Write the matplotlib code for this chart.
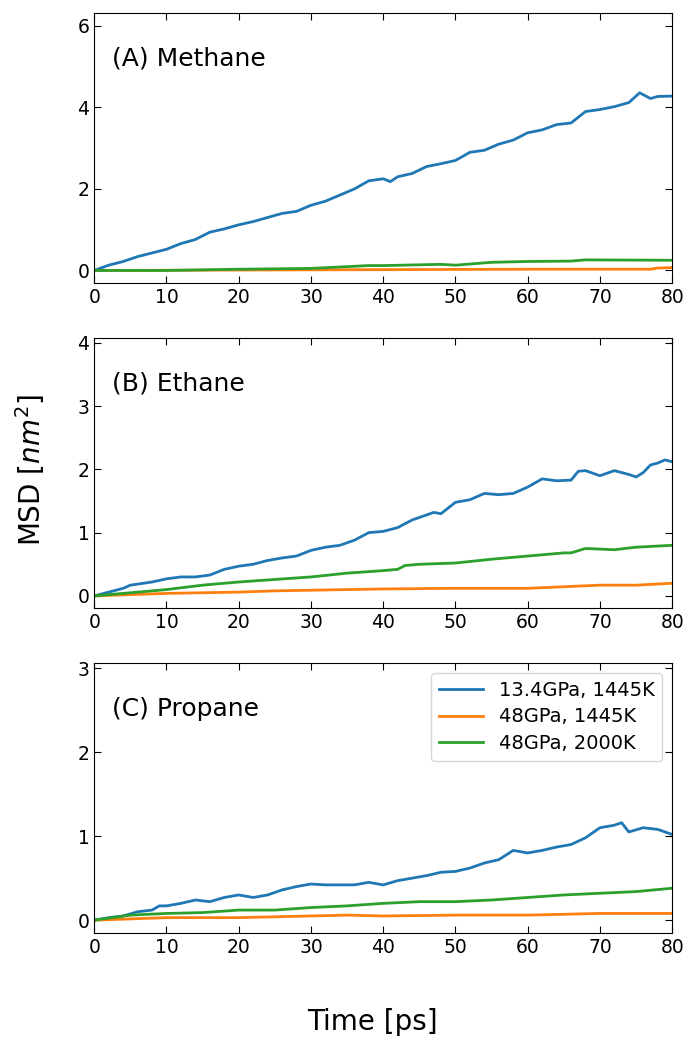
import numpy as np
import matplotlib.pyplot as plt

# MSD curves (time in ps, MSD in nm^2)
labels = ['13.4GPa, 1445K', '48GPa, 1445K', '48GPa, 2000K']
colors = ['#1f77b4', '#ff7f0e', '#2ca02c']
titles = ['(A) Methane', '(B) Ethane', '(C) Propane']

# Methane
t_a_blue = [0, 2, 4, 6, 8, 10, 12, 14, 16, 18, 20, 22, 24, 26, 28, 30, 32, 34, 36, 38,
            40, 41, 42, 44, 46, 48, 50, 52, 54, 56, 58, 60, 62, 64, 66, 68, 70, 72, 74,
            75.5, 77, 78, 80]
msd_a_blue = [0, 0.13, 0.22, 0.34, 0.43, 0.52, 0.66, 0.76, 0.94, 1.02, 1.12, 1.2, 1.3,
              1.4, 1.45, 1.6, 1.7, 1.85, 2.0, 2.2, 2.25, 2.18, 2.3, 2.38, 2.55, 2.62,
              2.7, 2.9, 2.95, 3.1, 3.2, 3.38, 3.45, 3.58, 3.62, 3.9, 3.95, 4.02, 4.12,
              4.36, 4.22, 4.27, 4.28]
t_a_orange = [0, 20, 40, 60, 77, 78, 80]
msd_a_orange = [0, 0.01, 0.02, 0.03, 0.03, 0.06, 0.07]
t_a_green = [0, 10, 20, 30, 38, 40, 48, 50, 55, 60, 66, 68, 80]
msd_a_green = [0, 0.0, 0.03, 0.05, 0.12, 0.12, 0.15, 0.13, 0.2, 0.22, 0.23, 0.26, 0.25]

# Ethane
t_b_blue = [0, 2, 4, 5, 8, 10, 12, 14, 16, 18, 20, 22, 24, 26, 28, 30, 32, 34, 36, 38,
            40, 42, 44, 46, 47, 48, 50, 52, 54, 56, 58, 60, 62, 64, 66, 67, 68, 70, 72,
            74, 75, 76, 77, 78, 79, 80]
msd_b_blue = [0, 0.06, 0.12, 0.17, 0.22, 0.27, 0.3, 0.3, 0.33, 0.42, 0.47, 0.5, 0.56,
              0.6, 0.63, 0.72, 0.77, 0.8, 0.88, 1.0, 1.02, 1.08, 1.2, 1.28, 1.32, 1.3,
              1.48, 1.52, 1.62, 1.6, 1.62, 1.72, 1.85, 1.82, 1.83, 1.97, 1.98, 1.9,
              1.98, 1.92, 1.88, 1.95, 2.07, 2.1, 2.15, 2.12]
t_b_orange = [0, 10, 20, 25, 30, 40, 50, 60, 66, 70, 75, 80]
msd_b_orange = [0, 0.04, 0.06, 0.08, 0.09, 0.11, 0.12, 0.12, 0.15, 0.17, 0.17, 0.2]
t_b_green = [0, 5, 10, 15, 20, 25, 30, 35, 40, 42, 43, 45, 50, 55, 60, 65, 66, 68, 72, 75, 80]
msd_b_green = [0, 0.05, 0.1, 0.17, 0.22, 0.26, 0.3, 0.36, 0.4, 0.42, 0.48, 0.5, 0.52,
               0.58, 0.63, 0.68, 0.68, 0.75, 0.73, 0.77, 0.8]

# Propane
t_c_blue = [0, 2, 4, 6, 8, 9, 10, 12, 14, 16, 18, 20, 22, 24, 26, 28, 30, 32, 34, 36,
            38, 40, 42, 44, 46, 48, 50, 52, 54, 56, 58, 60, 62, 64, 66, 68, 70, 72, 73,
            74, 76, 78, 80]
msd_c_blue = [0, 0.03, 0.05, 0.1, 0.12, 0.17, 0.17, 0.2, 0.24, 0.22, 0.27, 0.3, 0.27,
              0.3, 0.36, 0.4, 0.43, 0.42, 0.42, 0.42, 0.45, 0.42, 0.47, 0.5, 0.53, 0.57,
              0.58, 0.62, 0.68, 0.72, 0.83, 0.8, 0.83, 0.87, 0.9, 0.98, 1.1, 1.13, 1.16,
              1.05, 1.1, 1.08, 1.02]
t_c_orange = [0, 10, 20, 30, 35, 40, 50, 60, 70, 80]
msd_c_orange = [0, 0.03, 0.03, 0.05, 0.06, 0.05, 0.06, 0.06, 0.08, 0.08]
t_c_green = [0, 5, 10, 15, 20, 25, 30, 35, 40, 45, 50, 55, 60, 65, 70, 75, 80]
msd_c_green = [0, 0.06, 0.08, 0.09, 0.12, 0.12, 0.15, 0.17, 0.2, 0.22, 0.22, 0.24,
               0.27, 0.3, 0.32, 0.34, 0.38]

panels = [
    [(t_a_blue, msd_a_blue), (t_a_orange, msd_a_orange), (t_a_green, msd_a_green)],
    [(t_b_blue, msd_b_blue), (t_b_orange, msd_b_orange), (t_b_green, msd_b_green)],
    [(t_c_blue, msd_c_blue), (t_c_orange, msd_c_orange), (t_c_green, msd_c_green)],
]
ylims = [(-0.3, 6.33), (-0.19, 4.08), (-0.155, 3.06)]
yticks = [[0, 2, 4, 6], [0, 1, 2, 3, 4], [0, 1, 2, 3]]

fig, axes = plt.subplots(3, 1, figsize=(6.88, 10.45), dpi=100)
fig.subplots_adjust(left=0.137, right=0.977, top=0.988, bottom=0.107, hspace=0.204)

for ax, series, title, ylim, yt in zip(axes, panels, titles, ylims, yticks):
    for (t, m), c, lab in zip(series, colors, labels):
        ax.plot(t, m, color=c, lw=2, label=lab)
    ax.set_xlim(0, 80)
    ax.set_ylim(*ylim)
    ax.set_xticks(np.arange(0, 81, 10))
    ax.set_yticks(yt)
    ax.tick_params(direction='in', top=True, right=True, labelsize=13.5, length=5)
    ax.text(0.03, 0.83, title, transform=ax.transAxes, fontsize=18, va='center')

axes[2].legend(loc='upper right', fontsize=14, handlelength=2.3, labelspacing=0.4)

fig.text(0.542, 0.022, 'Time [ps]', ha='center', va='center', fontsize=20)
fig.text(0.044, 0.55, 'MSD [$nm^2$]', ha='center', va='center', rotation=90, fontsize=20)

fig.savefig('out.png', dpi=100)
